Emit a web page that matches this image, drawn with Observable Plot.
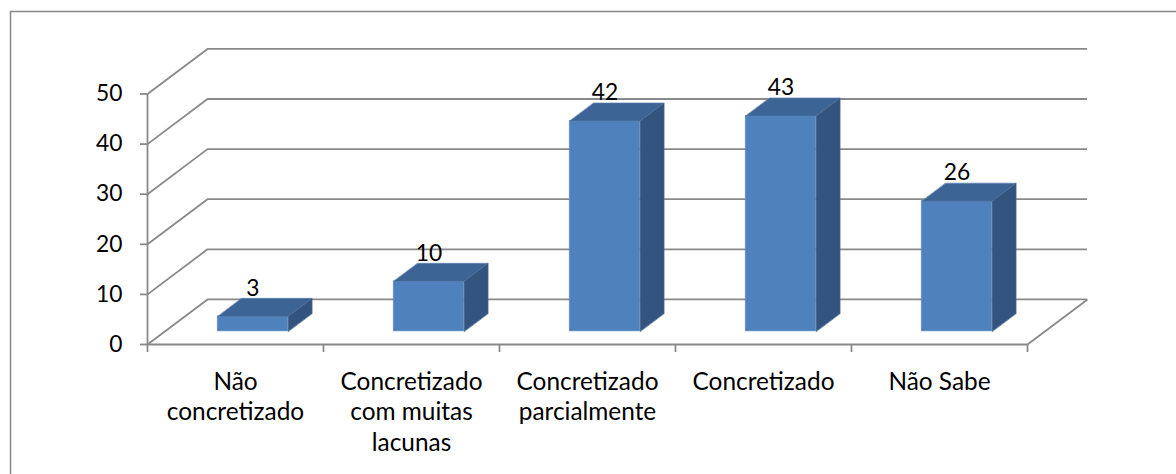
<!DOCTYPE html>
<html><head><meta charset="utf-8">
<script src="https://cdn.jsdelivr.net/npm/d3@7"></script>
<script src="https://cdn.jsdelivr.net/npm/@observablehq/plot@0.6"></script>
<style>body{margin:0;background:#fff;overflow:hidden} svg{display:block}</style>
</head><body><div id="chart"></div>
<script>
const categories = ["Não concretizado", "Concretizado com muitas lacunas", "Concretizado parcialmente", "Concretizado", "Não Sabe"];
const categoryLabels = ["Não\nconcretizado", "Concretizado\ncom muitas\nlacunas", "Concretizado\nparcialmente", "Concretizado", "Não Sabe"];
const values = [3, 10, 42, 43, 26];
const yTicks = [0, 10, 20, 30, 40, 50];

// 3D layout (in data units): depth offset of the back wall
const n = categories.length;
const DX = 60 / 176, DY = 9;
const ZF = 0.29, ZB = 0.69;      // bar front / back depth
const BL = 0.3, BR = 0.7;        // bar left / right within band
const GRID = "#898989";
const FONT = 22.8;
const CAT_FONT = 24.4;

const fx = (x, z) => x + z * DX;
const fy = (y, z) => y + z * DY;

const tops = [], sides = [];
values.forEach((v, i) => {
  const xl = i + BL, xr = i + BR;
  tops.push(
    {k: i, x: fx(xl, ZF), y: fy(v, ZF)},
    {k: i, x: fx(xr, ZF), y: fy(v, ZF)},
    {k: i, x: fx(xr, ZB), y: fy(v, ZB)},
    {k: i, x: fx(xl, ZB), y: fy(v, ZB)}
  );
  sides.push(
    {k: i, x: fx(xr, ZF), y: fy(0, ZF)},
    {k: i, x: fx(xr, ZF), y: fy(v, ZF)},
    {k: i, x: fx(xr, ZB), y: fy(v, ZB)},
    {k: i, x: fx(xr, ZB), y: fy(0, ZB)}
  );
});

const chart = Plot.plot({
  width: 1176, height: 474,
  marginLeft: 10, marginTop: 11, marginRight: 0, marginBottom: 0,
  style: {fontFamily: "Lato, 'Open Sans', sans-serif", background: "#fff"},
  x: {domain: [0, n], range: [147, 1027], axis: null},
  y: {domain: [0, 50], range: [344, 93.5], axis: null},
  marks: [
    Plot.frame({stroke: "#878787", strokeWidth: 1.5, insetRight: -10, insetBottom: -10}),
    // back wall gridlines
    Plot.ruleY(yTicks, {y: d => fy(d, 1), x1: DX, x2: n + DX, stroke: GRID, strokeWidth: 1.8, strokeOpacity: 1}),
    // left wall diagonals
    Plot.link(yTicks, {x1: 0, y1: d => d, x2: DX, y2: d => fy(d, 1), stroke: GRID, strokeWidth: 1.8, strokeOpacity: 1}),
    // floor
    Plot.ruleY([0], {x1: 0, x2: n, stroke: GRID, strokeWidth: 1.8, strokeOpacity: 1}),
    Plot.link([0], {x1: n, y1: 0, x2: n + DX, y2: DY, stroke: GRID, strokeWidth: 1.8, strokeOpacity: 1}),
    // y axis
    Plot.ruleX([0], {y1: 0, y2: 50, stroke: GRID, strokeWidth: 1.8, strokeOpacity: 1}),
    Plot.ruleY(yTicks, {y: d => d, x1: -7 / 176, x2: 0, stroke: GRID, strokeWidth: 1.8, strokeOpacity: 1}),
    Plot.ruleX(d3.range(n + 1), {x: d => d, y1: 0, y2: -1.6, stroke: GRID, strokeWidth: 1.8, strokeOpacity: 1}),
    // bars
    Plot.rect(values, {x1: (d, i) => fx(i + BL, ZF), x2: (d, i) => fx(i + BR, ZF), y1: fy(0, ZF), y2: d => fy(d, ZF), fill: "#4F81BD", stroke: "#6a94c8", strokeWidth: 0.6}),
    Plot.line(tops, {x: "x", y: "y", z: "k", curve: "linear-closed", fill: "#3C6494", stroke: "#5a80b0", strokeWidth: 0.6}),
    Plot.line(sides, {x: "x", y: "y", z: "k", curve: "linear-closed", fill: "#33547F", stroke: "#4a6a94", strokeWidth: 0.6}),
    // labels
    Plot.text(yTicks, {x: 0, y: d => d, text: d => String(d), textAnchor: "end", dx: -25, fontSize: FONT, fill: "#000"}),
    Plot.text(values, {x: (d, i) => fx(i + (BL + BR) / 2, ZF), y: d => fy(d, ZB), text: d => String(d), dy: -10, fontSize: FONT, fill: "#000"}),
    Plot.text(categoryLabels, {x: (d, i) => i + 0.5, y: 0, text: d => d, lineAnchor: "top", dy: 23, lineHeight: 1.27, fontSize: CAT_FONT, fill: "#000"})
  ]
});
document.getElementById("chart").append(chart);
</script>
</body></html>
